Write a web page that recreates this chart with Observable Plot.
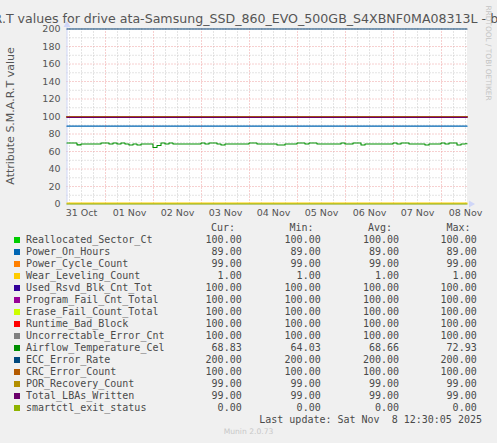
<!DOCTYPE html>
<html><head><meta charset="utf-8">
<script src="https://cdn.jsdelivr.net/npm/d3@7"></script>
<script src="https://cdn.jsdelivr.net/npm/@observablehq/plot@0.6"></script>
<style>
html,body{margin:0;padding:0;background:#f0f0f0;}
#wrap{position:relative;width:497px;height:443px;overflow:hidden;background:#f0f0f0;font-family:"DejaVu Sans",sans-serif;color:#555;}
#chart{position:absolute;left:0;top:0;}
.abs{position:absolute;white-space:nowrap;}
.mono{font-family:"DejaVu Sans Mono",monospace;font-size:10px;line-height:12px;color:#4a4a4a;}
</style></head><body>
<div id="wrap">
  <div id="chart"></div>
  <div id="title" class="abs" style="left:248.5px;top:13.3px;transform:translateX(-50%);font-size:12.6px;line-height:12px;color:#555;">S.M.A.R.T values for drive ata-Samsung_SSD_860_EVO_500GB_S4XBNF0MA08313L - by week</div>
  <div id="ylabel" class="abs" style="left:11px;top:115.5px;transform:translate(-50%,-50%) rotate(-90deg);font-size:11px;line-height:12px;color:#555;">Attribute S.M.A.R.T value</div>
  <div id="wm" class="abs" style="left:488px;top:53px;transform:translate(-50%,-50%) rotate(90deg);font-size:7.4px;line-height:8px;color:#c4c4c4;">RRDTOOL / TOBI OETIKER</div>
  <div id="legend"></div>
  <div id="munin" class="abs" style="left:248.5px;top:427px;transform:translateX(-50%);font-size:7.6px;line-height:10px;color:#c8c8c8;">Munin 2.0.73</div>
</div>
<script>
// ---- data ----
const seriesNames = ["Reallocated_Sector_Ct","Power_On_Hours","Power_Cycle_Count","Wear_Leveling_Count","Used_Rsvd_Blk_Cnt_Tot","Program_Fail_Cnt_Total","Erase_Fail_Count_Total","Runtime_Bad_Block","Uncorrectable_Error_Cnt","Airflow_Temperature_Cel","ECC_Error_Rate","CRC_Error_Count","POR_Recovery_Count","Total_LBAs_Written","smartctl_exit_status"];
const seriesColors = ["#00CC00","#0066B3","#FF8000","#FFCC00","#330099","#990099","#CCFF00","#FF0000","#808080","#008F00","#00487D","#B35A00","#B38F00","#6B006B","#8FB300"];
const curValues = [100,89,99,1,100,100,100,100,100,68.83,200,100,99,99,0];
const minValues = [100,89,99,1,100,100,100,100,100,64.03,200,100,99,99,0];
const avgValues = [100,89,99,1,100,100,100,100,100,68.66,200,100,99,99,0];
const maxValues = [100,89,99,1,100,100,100,100,100,72.93,200,100,99,99,0];
const temperatureIndex = 9;
// Airflow temperature, one value every 2 hours from the start of the window
const temperatureValues = [
  69.7,69.7,69.7,67.6,68.6,68.6,68.6,68.6,68.6,69.7,
  69.7,68.6,69.7,68.6,69.7,68.6,67.5,68.6,67.5,68.6,
  68.6,68.6,64.6,66.8,69.7,68.6,69.7,68.6,68.6,68.6,
  68.6,68.6,68.6,68.6,69.7,68.6,69.7,69.7,68.6,67.5,
  68.6,68.6,68.6,68.6,68.6,68.6,69.7,69.7,68.6,68.6,
  68.6,68.6,68.6,67.5,67.5,68.6,68.6,68.6,69.7,69.7,
  68.6,69.7,69.7,68.6,68.6,68.6,68.6,68.6,68.6,69.7,
  68.6,68.6,69.7,69.7,67.5,68.6,68.6,68.6,68.6,68.6,
  68.6,68.6,69.7,68.6,69.7,69.7,68.6,68.6,68.6,68.6,
  67.5,68.6,68.6,68.6,69.7,68.6,69.7,69.7,67.5,68.6,
  68.8
];
const dayLabels = ["31 Oct","01 Nov","02 Nov","03 Nov","04 Nov","05 Nov","06 Nov","07 Nov","08 Nov"];
const yTicks = [0,20,40,60,80,100,120,140,160,180,200];
const lastUpdate = "Last update: Sat Nov  8 12:30:05 2025";

// ---- derived ----
const H = 3600 * 1000;
const startTime = new Date(Date.UTC(2025, 9, 31, 4, 45));
const endTime = new Date(Date.UTC(2025, 10, 8, 12, 45));
const noonTimes = dayLabels.map((_, i) => new Date(Date.UTC(2025, 9, 31 + i, 12)));
const labelByTime = new Map(noonTimes.map((t, i) => [+t, dayLabels[i]]));
const majorV = [], minorV = [];
for (let t = Date.UTC(2025, 9, 31, 6); t < +endTime; t += 6 * H) {
  const d = new Date(t);
  (d.getUTCHours() === 0 ? majorV : minorV).push(d);
}
const majorH = yTicks.filter(v => v > 0);
const minorH = yTicks.slice(1).map(v => v - 10);

const flatData = [];
seriesNames.forEach((name, i) => {
  if (i === temperatureIndex) return;
  flatData.push({name, color: seriesColors[i], t: startTime, v: curValues[i]});
  flatData.push({name, color: seriesColors[i], t: endTime, v: curValues[i]});
});
const tempData = temperatureValues.map((v, i) => ({t: new Date(+startTime + i * 2 * H), v}));

const plot = Plot.plot({
  width: 497, height: 222,
  marginLeft: 66.5, marginRight: 30.5, marginTop: 28.5, marginBottom: 18.5,
  style: {fontFamily: "DejaVu Sans", fontSize: "9.5px", color: "#555", background: "transparent", overflow: "visible"},
  x: {type: "utc", domain: [startTime, endTime], label: null},
  y: {domain: [0, 200], label: null},
  color: {type: "identity"},
  marks: [
    Plot.frame({fill: "white", stroke: "none"}),
    Plot.ruleY(minorH, {stroke: "#c8c8c8", strokeDasharray: "1,2"}),
    Plot.ruleX(minorV, {stroke: "#c8c8c8", strokeDasharray: "1,2"}),
    Plot.ruleY(majorH, {stroke: "#eea0a0", strokeDasharray: "1,2"}),
    Plot.ruleX(majorV, {stroke: "#eea0a0", strokeDasharray: "1,2"}),
    Plot.ruleX([startTime], {stroke: "#CFD6F8", y1: -2, y2: 203}),
    Plot.ruleY([0], {stroke: "#CFD6F8", x1: startTime, x2: endTime}),
    Plot.dot([0], {x: () => endTime, y: 0, dx: 4, symbol: "triangle", rotate: 90, r: 2.6, fill: "#CFD6F8", stroke: "none"}),
    Plot.dot([0], {x: () => startTime, y: 200, dy: -4, symbol: "triangle", r: 2.6, fill: "#CFD6F8", stroke: "none"}),
    Plot.line(flatData, {x: "t", y: "v", z: "name", stroke: "color", strokeWidth: 1.1}),
    Plot.line(tempData, {x: "t", y: "v", stroke: seriesColors[temperatureIndex], strokeWidth: 1.1, curve: "step"}),
    Plot.axisX({ticks: noonTimes, tickFormat: d => labelByTime.get(+d), tickSize: 0, tickPadding: 5, fill: "#555", fontSize: 9.5, label: null}),
    Plot.axisY({ticks: yTicks, tickFormat: d => String(d), tickSize: 0, tickPadding: 6.5, fill: "#555", fontSize: 9.5, label: null})
  ]
});
document.getElementById("chart").appendChild(plot);

// ---- legend ----
const legend = document.getElementById("legend");
function span(text, style, cls = "abs mono") {
  const s = document.createElement("div");
  s.className = cls;
  s.style.cssText = style;
  s.textContent = text;
  legend.appendChild(s);
  return s;
}
const colRight = [241.7, 320.7, 399, 476.7];
const headRight = [235, 313.5, 392, 470.5];
["Cur:", "Min:", "Avg:", "Max:"].forEach((h, j) => span(h, `top:222px;right:${497 - headRight[j]}px;`));
seriesNames.forEach((name, i) => {
  const top = 234 + 12 * i;
  const sq = document.createElement("div");
  sq.className = "abs";
  sq.style.cssText = `left:14px;top:${top + 3.3}px;width:6px;height:6px;background:${seriesColors[i]};`;
  legend.appendChild(sq);
  span(name, `top:${top}px;left:26px;`);
  [curValues, minValues, avgValues, maxValues].forEach((arr, j) => {
    span(arr[i].toFixed(2), `top:${top}px;right:${497 - colRight[j]}px;`);
  });
});
span(lastUpdate, `top:414px;right:${497 - 482}px;white-space:pre;`);
</script>
</body></html>
